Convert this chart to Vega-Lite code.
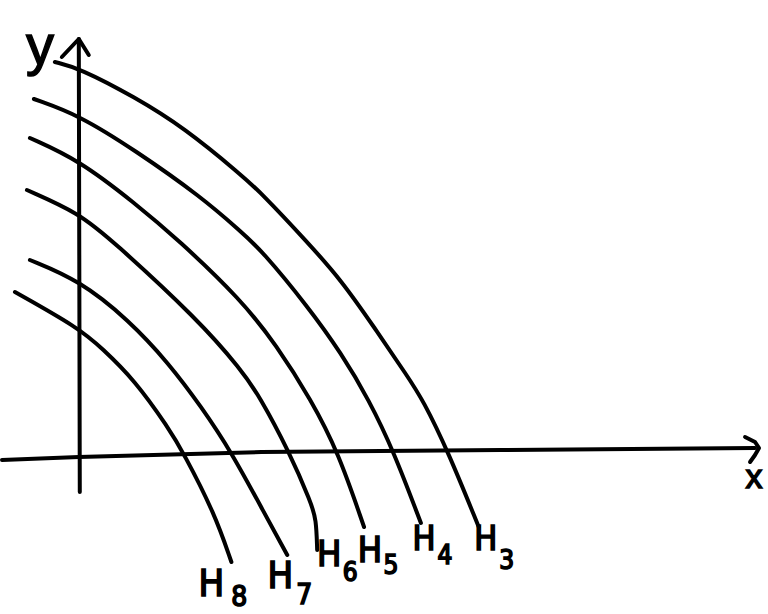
{
  "$schema": "https://vega.github.io/schema/vega-lite/v6.json",
  "width": 768,
  "height": 614,
  "padding": 0,
  "autosize": {"type": "fit", "contains": "padding"},
  "background": "white",
  "config": {"view": {"stroke": null}},
  "datasets": {
    "curves": [
      {"s": "H3", "i": 0, "x": -0.24, "y": 3.95}, {"s": "H3", "i": 1, "x": 0, "y": 3.89}, {"s": "H3", "i": 2, "x": 0.56, "y": 3.60}, {"s": "H3", "i": 3, "x": 1.06, "y": 3.29}, {"s": "H3", "i": 4, "x": 1.63, "y": 2.82}, {"s": "H3", "i": 5, "x": 1.83, "y": 2.64}, {"s": "H3", "i": 6, "x": 2.30, "y": 2.14}, {"s": "H3", "i": 7, "x": 2.63, "y": 1.77}, {"s": "H3", "i": 8, "x": 2.96, "y": 1.30}, {"s": "H3", "i": 9, "x": 3.30, "y": 0.80}, {"s": "H3", "i": 10, "x": 3.45, "y": 0.57}, {"s": "H3", "i": 11, "x": 3.70, "y": 0.06}, {"s": "H3", "i": 12, "x": 4.01, "y": -0.70},
      {"s": "H4", "i": 0, "x": -0.45, "y": 3.58}, {"s": "H4", "i": 1, "x": 0, "y": 3.42}, {"s": "H4", "i": 2, "x": 0.56, "y": 3.07}, {"s": "H4", "i": 3, "x": 1.23, "y": 2.60}, {"s": "H4", "i": 4, "x": 1.63, "y": 2.25}, {"s": "H4", "i": 5, "x": 1.83, "y": 2.07}, {"s": "H4", "i": 6, "x": 2.30, "y": 1.50}, {"s": "H4", "i": 7, "x": 2.63, "y": 1.04}, {"s": "H4", "i": 8, "x": 2.91, "y": 0.57}, {"s": "H4", "i": 9, "x": 3.16, "y": 0.05}, {"s": "H4", "i": 10, "x": 3.43, "y": -0.66},
      {"s": "H5", "i": 0, "x": -0.49, "y": 3.19}, {"s": "H5", "i": 1, "x": 0, "y": 2.97}, {"s": "H5", "i": 2, "x": 0.56, "y": 2.54}, {"s": "H5", "i": 3, "x": 1.00, "y": 2.17}, {"s": "H5", "i": 4, "x": 1.63, "y": 1.57}, {"s": "H5", "i": 5, "x": 1.98, "y": 1.12}, {"s": "H5", "i": 6, "x": 2.33, "y": 0.57}, {"s": "H5", "i": 7, "x": 2.60, "y": 0.05}, {"s": "H5", "i": 8, "x": 2.86, "y": -0.70},
      {"s": "H6", "i": 0, "x": -0.52, "y": 2.67}, {"s": "H6", "i": 1, "x": 0, "y": 2.44}, {"s": "H6", "i": 2, "x": 0.33, "y": 2.17}, {"s": "H6", "i": 3, "x": 1.20, "y": 1.37}, {"s": "H6", "i": 4, "x": 1.63, "y": 0.87}, {"s": "H6", "i": 5, "x": 1.81, "y": 0.61}, {"s": "H6", "i": 6, "x": 2.11, "y": 0.05}, {"s": "H6", "i": 7, "x": 2.33, "y": -0.46}, {"s": "H6", "i": 8, "x": 2.38, "y": -0.62}, {"s": "H6", "i": 9, "x": 2.39, "y": -0.93},
      {"s": "H7", "i": 0, "x": -0.49, "y": 1.97}, {"s": "H7", "i": 1, "x": 0, "y": 1.77}, {"s": "H7", "i": 2, "x": 0.50, "y": 1.37}, {"s": "H7", "i": 3, "x": 0.90, "y": 0.94}, {"s": "H7", "i": 4, "x": 1.23, "y": 0.50}, {"s": "H7", "i": 5, "x": 1.53, "y": 0.05}, {"s": "H7", "i": 6, "x": 1.86, "y": -0.56}, {"s": "H7", "i": 7, "x": 2.09, "y": -0.98},
      {"s": "H8", "i": 0, "x": -0.64, "y": 1.65}, {"s": "H8", "i": 1, "x": 0, "y": 1.29}, {"s": "H8", "i": 2, "x": 0.23, "y": 1.09}, {"s": "H8", "i": 3, "x": 0.56, "y": 0.77}, {"s": "H8", "i": 4, "x": 0.90, "y": 0.29}, {"s": "H8", "i": 5, "x": 1.05, "y": 0.04}, {"s": "H8", "i": 6, "x": 1.36, "y": -0.56}, {"s": "H8", "i": 7, "x": 1.53, "y": -1.05}
    ],
    "axes": [
      {"s": "xaxis", "i": 0, "x": -0.77, "y": -0.03}, {"s": "xaxis", "i": 1, "x": 0, "y": 0}, {"s": "xaxis", "i": 2, "x": 1.83, "y": 0.05}, {"s": "xaxis", "i": 3, "x": 4.23, "y": 0.07}, {"s": "xaxis", "i": 4, "x": 6.78, "y": 0.09},
      {"s": "xarrow", "i": 0, "x": 6.68, "y": 0.20}, {"s": "xarrow", "i": 1, "x": 6.78, "y": 0.15}, {"s": "xarrow", "i": 2, "x": 6.82, "y": 0.09}, {"s": "xarrow", "i": 3, "x": 6.78, "y": 0.02}, {"s": "xarrow", "i": 4, "x": 6.73, "y": -0.05},
      {"s": "yaxis", "i": 0, "x": 0, "y": 4.18}, {"s": "yaxis", "i": 1, "x": 0.01, "y": -0.35},
      {"s": "yarrow", "i": 0, "x": -0.17, "y": 4.00}, {"s": "yarrow", "i": 1, "x": 0, "y": 4.18}, {"s": "yarrow", "i": 2, "x": 0.10, "y": 4.02}
    ],
    "labels": [
      {"t": "H", "x": 1.33, "y": -1.28, "size": 38},
      {"t": "8", "x": 1.61, "y": -1.41, "size": 28},
      {"t": "H", "x": 2.02, "y": -1.20, "size": 38},
      {"t": "7", "x": 2.26, "y": -1.39, "size": 28},
      {"t": "H", "x": 2.51, "y": -0.98, "size": 36},
      {"t": "6", "x": 2.72, "y": -1.16, "size": 26},
      {"t": "H", "x": 2.92, "y": -0.94, "size": 36},
      {"t": "5", "x": 3.13, "y": -1.09, "size": 26},
      {"t": "H", "x": 3.46, "y": -0.83, "size": 34},
      {"t": "4", "x": 3.67, "y": -0.99, "size": 26},
      {"t": "H", "x": 4.08, "y": -0.83, "size": 34},
      {"t": "3", "x": 4.29, "y": -1.04, "size": 26}
    ],
    "axislabels": [
      {"t": "y", "x": -0.39, "y": 3.93, "size": 56},
      {"t": "x", "x": 6.77, "y": -0.31, "size": 34}
    ]
  },
  "layer": [
    {
      "data": {"name": "curves"},
      "mark": {"type": "line", "interpolate": "basis", "color": "black", "strokeWidth": 4, "strokeCap": "round"},
      "encoding": {
        "x": {"field": "x", "type": "quantitative", "scale": {"domain": [-0.77, 6.91], "nice": false, "zero": false}, "axis": null},
        "y": {"field": "y", "type": "quantitative", "scale": {"domain": [-1.57, 4.57], "nice": false, "zero": false}, "axis": null},
        "detail": {"field": "s"},
        "order": {"field": "i"}
      }
    },
    {
      "data": {"name": "axes"},
      "mark": {"type": "line", "interpolate": "linear", "color": "black", "strokeWidth": 4, "strokeCap": "round", "strokeJoin": "round"},
      "encoding": {
        "x": {"field": "x", "type": "quantitative"},
        "y": {"field": "y", "type": "quantitative"},
        "detail": {"field": "s"},
        "order": {"field": "i"}
      }
    },
    {
      "data": {"name": "labels"},
      "mark": {"type": "text", "font": "'Liberation Sans Narrow', 'DejaVu Sans Condensed', 'Liberation Sans', sans-serif", "color": "black", "stroke": "black", "strokeWidth": 1.6, "align": "center", "baseline": "middle"},
      "encoding": {
        "x": {"field": "x", "type": "quantitative"},
        "y": {"field": "y", "type": "quantitative"},
        "text": {"field": "t"},
        "size": {"field": "size", "type": "quantitative", "scale": null}
      }
    },
    {
      "data": {"name": "axislabels"},
      "mark": {"type": "text", "font": "'Liberation Sans', sans-serif", "color": "black", "stroke": "black", "strokeWidth": 1.4, "align": "center", "baseline": "alphabetic"},
      "encoding": {
        "x": {"field": "x", "type": "quantitative"},
        "y": {"field": "y", "type": "quantitative"},
        "text": {"field": "t"},
        "size": {"field": "size", "type": "quantitative", "scale": null}
      }
    }
  ]
}
